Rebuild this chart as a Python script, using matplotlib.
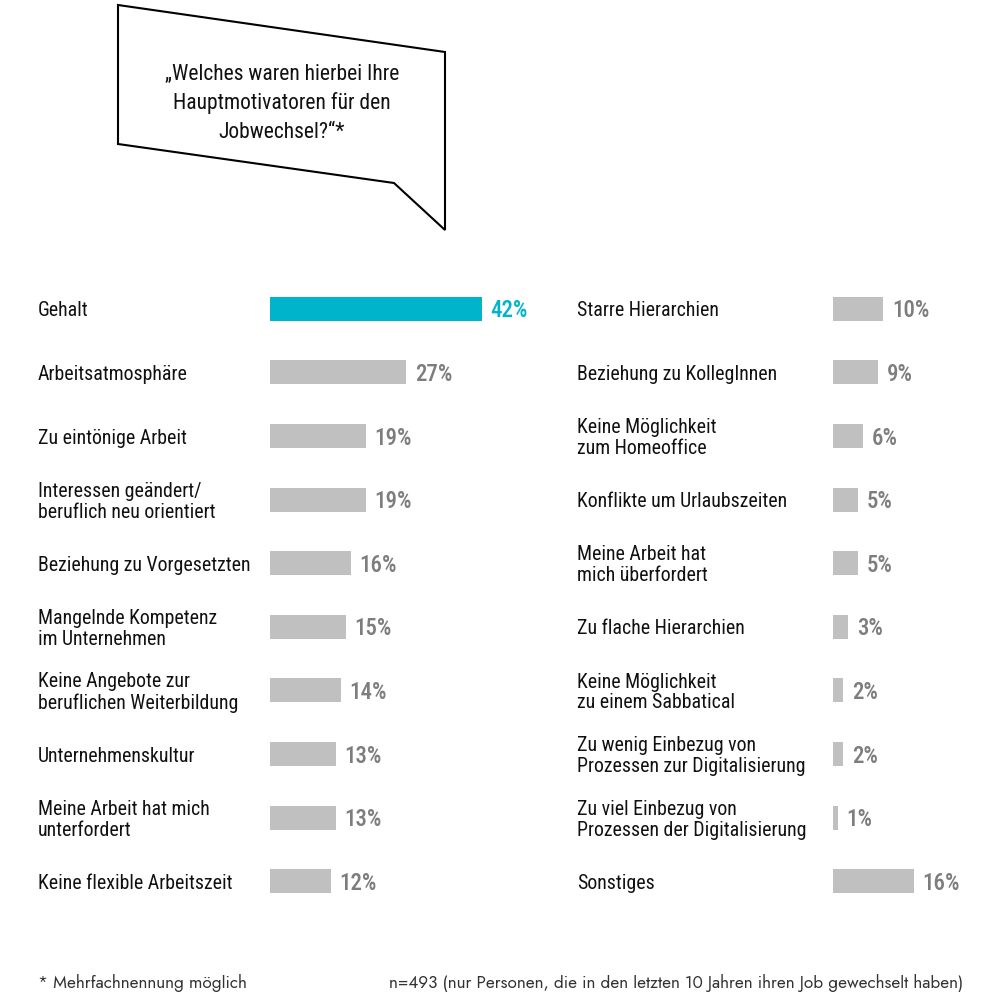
import matplotlib
matplotlib.use("Agg")
import matplotlib.pyplot as plt
from matplotlib.patches import Polygon
from matplotlib.transforms import offset_copy

# data
left_labels = [
    "Gehalt",
    "Arbeitsatmosphäre",
    "Zu eintönige Arbeit",
    "Interessen geändert/\nberuflich neu orientiert",
    "Beziehung zu Vorgesetzten",
    "Mangelnde Kompetenz\nim Unternehmen",
    "Keine Angebote zur\nberuflichen Weiterbildung",
    "Unternehmenskultur",
    "Meine Arbeit hat mich\nunterfordert",
    "Keine flexible Arbeitszeit",
]
left_values = [42, 27, 19, 19, 16, 15, 14, 13, 13, 12]

right_labels = [
    "Starre Hierarchien",
    "Beziehung zu KollegInnen",
    "Keine Möglichkeit\nzum Homeoffice",
    "Konflikte um Urlaubszeiten",
    "Meine Arbeit hat\nmich überfordert",
    "Zu flache Hierarchien",
    "Keine Möglichkeit\nzu einem Sabbatical",
    "Zu wenig Einbezug von\nProzessen zur Digitalisierung",
    "Zu viel Einbezug von\nProzessen der Digitalisierung",
    "Sonstiges",
]
right_values = [10, 9, 6, 5, 5, 3, 2, 2, 1, 16]

question = "„Welches waren hierbei Ihre\nHauptmotivatoren für den\nJobwechsel?“*"
note_left = "* Mehrfachnennung möglich"
note_right = "n=493 (nur Personen, die in den letzten 10 Jahren ihren Job gewechselt haben)"

CYAN = "#00b4cc"
BAR_GRAY = "#c0c0c0"
TXT_GRAY = "#7d7d7d"
FONT = ["Roboto Condensed", "DejaVu Sans"]
FOOT_FONT = ["Jost", "DejaVu Sans"]

fig = plt.figure(figsize=(10, 9.93), dpi=100)

# speech bubble + footer, on an overlay axes in pixel units
bub = fig.add_axes([0, 0, 1, 1])
bub.set_xlim(0, 1000)
bub.set_ylim(993, 0)
bub.axis("off")
bubble_pts = [(118, 5), (445, 52), (445, 230), (394, 183), (118, 144)]
bub.add_patch(Polygon(bubble_pts, closed=True, fill=False, edgecolor="black", linewidth=1.5))
bub.text(282, 103, question, ha="center", va="center", fontsize=15.5,
         family=FONT, linespacing=1.46, color="#111111")
bub.text(38, 983, note_left, ha="left", va="center", fontsize=12.3,
         family=FOOT_FONT, color="#333333")
bub.text(963, 983, note_right, ha="right", va="center", fontsize=12.3,
         family=FOOT_FONT, color="#333333")

px_per_pct = 5.05
ax_bottom = 1 - 913 / 993
ax_height = 636 / 993


def column(x_label, x_bar, width_px, labels, values, colors, val_colors):
    ax = fig.add_axes([x_label / 1000, ax_bottom, width_px / 1000, ax_height])
    x0 = -(x_bar - x_label) / px_per_pct
    ax.set_xlim(x0, x0 + width_px / px_per_pct)
    ax.set_ylim(len(labels) - 0.5, -0.5)
    ax.axis("off")
    ys = list(range(len(labels)))
    ax.barh(ys, values, height=0.375, color=colors)
    # text sits a touch lower than the bar centre in the original
    tr = offset_copy(ax.transData, fig=fig, x=0, y=-1.5, units="points")
    for y, lab, v, c in zip(ys, labels, values, val_colors):
        ax.text(x0, y, lab, ha="left", va="center", fontsize=14.3, family=FONT,
                linespacing=1.12, color="#111111", transform=tr)
        ax.text(v + 1.7, y, f"{v}%", ha="left", va="center", fontsize=16.5,
                family=FONT, fontweight=500, color=c, transform=tr)
    return ax


left_colors = [CYAN] + [BAR_GRAY] * (len(left_values) - 1)
left_vcolors = [CYAN] + [TXT_GRAY] * (len(left_values) - 1)
column(38, 270, 520, left_labels, left_values, left_colors, left_vcolors)
column(577, 833, 410, right_labels, right_values,
       [BAR_GRAY] * len(right_values), [TXT_GRAY] * len(right_values))

fig.savefig("out.png", dpi=100, facecolor="white")
